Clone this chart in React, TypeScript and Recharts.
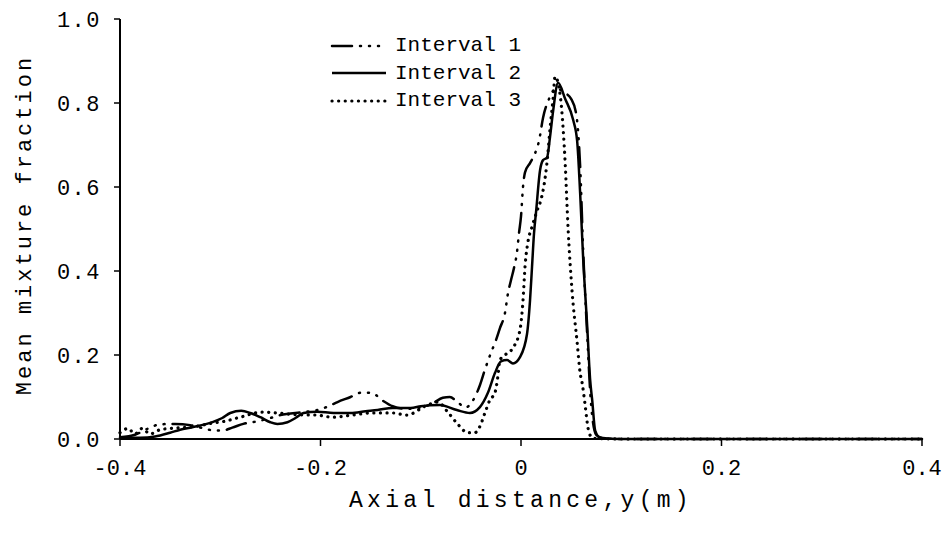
import { LineChart, Line, XAxis, YAxis, Legend } from "recharts"

const FONT = "'Liberation Mono', 'Courier New', monospace"

const X_TICKS = [-0.4, -0.2, 0, 0.2, 0.4]
const Y_TICKS = [0, 0.2, 0.4, 0.6, 0.8, 1.0]

// [axial distance (m), mean mixture fraction]
const INTERVAL_1: [number, number][] = [
  [-0.4, 0.004], [-0.385, 0.01], [-0.372, 0.025], [-0.36, 0.035], [-0.345, 0.036],
  [-0.33, 0.033], [-0.316, 0.025], [-0.305, 0.02], [-0.298, 0.02], [-0.288, 0.027],
  [-0.277, 0.036], [-0.263, 0.042], [-0.25, 0.05], [-0.24, 0.057], [-0.218, 0.064],
  [-0.205, 0.068], [-0.194, 0.076], [-0.183, 0.088], [-0.17, 0.1], [-0.16, 0.11],
  [-0.149, 0.11], [-0.139, 0.093], [-0.128, 0.078], [-0.115, 0.072], [-0.1, 0.075],
  [-0.088, 0.085], [-0.078, 0.098], [-0.071, 0.1], [-0.062, 0.085], [-0.055, 0.075],
  [-0.05, 0.085], [-0.046, 0.1], [-0.041, 0.128], [-0.036, 0.165], [-0.03, 0.205],
  [-0.025, 0.235], [-0.021, 0.264], [-0.016, 0.3], [-0.013, 0.347], [-0.01, 0.378],
  [-0.007, 0.407], [-0.004, 0.445], [-0.002, 0.49], [0.0, 0.53], [0.002, 0.6],
  [0.004, 0.635], [0.009, 0.657], [0.014, 0.68], [0.018, 0.71], [0.022, 0.765],
  [0.028, 0.81], [0.035, 0.835], [0.043, 0.825], [0.05, 0.81], [0.055, 0.775],
  [0.059, 0.65], [0.062, 0.45], [0.066, 0.25], [0.07, 0.08], [0.075, 0.01],
  [0.082, 0.002], [0.1, 0], [0.2, 0], [0.3, 0], [0.4, 0],
]

const INTERVAL_2: [number, number][] = [
  [-0.4, 0.003], [-0.38, 0.003], [-0.365, 0.006], [-0.35, 0.015], [-0.34, 0.022],
  [-0.328, 0.028], [-0.308, 0.04], [-0.298, 0.05], [-0.29, 0.062], [-0.279, 0.067],
  [-0.27, 0.062], [-0.26, 0.052], [-0.25, 0.04], [-0.243, 0.036], [-0.233, 0.04],
  [-0.225, 0.05], [-0.217, 0.062], [-0.203, 0.065], [-0.187, 0.062], [-0.17, 0.062],
  [-0.155, 0.066], [-0.143, 0.069], [-0.128, 0.074], [-0.11, 0.074], [-0.1, 0.078],
  [-0.081, 0.081], [-0.064, 0.069], [-0.051, 0.062], [-0.041, 0.076], [-0.033, 0.11],
  [-0.026, 0.157], [-0.02, 0.185], [-0.014, 0.188], [-0.008, 0.18], [-0.001, 0.195],
  [0.006, 0.25], [0.009, 0.33], [0.011, 0.41], [0.013, 0.49], [0.015, 0.54],
  [0.019, 0.64], [0.022, 0.664], [0.026, 0.67], [0.029, 0.72], [0.032, 0.78],
  [0.037, 0.848], [0.044, 0.81], [0.052, 0.76], [0.056, 0.71], [0.059, 0.585],
  [0.062, 0.43], [0.066, 0.27], [0.069, 0.14], [0.071, 0.093], [0.074, 0.02],
  [0.079, 0.003], [0.1, 0], [0.2, 0], [0.3, 0], [0.4, 0],
]

const INTERVAL_3: [number, number][] = [
  [-0.4, 0.015], [-0.392, 0.025], [-0.385, 0.012], [-0.378, 0.025], [-0.37, 0.012],
  [-0.36, 0.022], [-0.345, 0.026], [-0.324, 0.03], [-0.31, 0.037], [-0.296, 0.042],
  [-0.28, 0.052], [-0.258, 0.064], [-0.244, 0.062], [-0.225, 0.058], [-0.204, 0.057],
  [-0.188, 0.052], [-0.168, 0.057], [-0.148, 0.062], [-0.128, 0.062], [-0.114, 0.057],
  [-0.094, 0.08], [-0.083, 0.088], [-0.073, 0.064], [-0.064, 0.038], [-0.053, 0.015],
  [-0.046, 0.015], [-0.041, 0.03], [-0.036, 0.062], [-0.031, 0.093], [-0.026, 0.11],
  [-0.023, 0.15], [-0.021, 0.188], [-0.016, 0.2], [-0.008, 0.217], [-0.001, 0.26],
  [0.002, 0.33], [0.004, 0.41], [0.007, 0.47], [0.011, 0.505], [0.017, 0.55],
  [0.02, 0.57], [0.026, 0.66], [0.029, 0.74], [0.032, 0.81], [0.034, 0.863],
  [0.039, 0.82], [0.042, 0.74], [0.044, 0.66], [0.047, 0.5], [0.051, 0.35],
  [0.056, 0.23], [0.059, 0.157], [0.061, 0.133], [0.064, 0.08], [0.066, 0.04],
  [0.068, 0.014], [0.072, 0.002], [0.1, 0], [0.2, 0], [0.3, 0], [0.4, 0],
]

const toPoints = (rows: [number, number][]) => rows.map(([x, y]) => ({ x, y }))

const SERIES = [
  { name: "Interval 1", data: toPoints(INTERVAL_1), width: 2.5, dash: "20 8 1 8 1 8 1 8", cap: "round" as const },
  { name: "Interval 2", data: toPoints(INTERVAL_2), width: 2.5, dash: undefined, cap: "butt" as const },
  { name: "Interval 3", data: toPoints(INTERVAL_3), width: 3.2, dash: "0.1 6.5", cap: "round" as const },
]

const renderLegend = () => (
  <div style={{ fontFamily: FONT, fontSize: 21, color: "#000" }}>
    {SERIES.map((s) => (
      <div key={s.name} style={{ display: "flex", alignItems: "center", height: 27.5 }}>
        <svg width={58} height={10}>
          <line x1={2} y1={5} x2={56} y2={5} stroke="#000" strokeWidth={s.width}
            strokeDasharray={s.dash} strokeLinecap={s.cap} />
        </svg>
        <span style={{ marginLeft: 7 }}>{s.name}</span>
      </div>
    ))}
  </div>
)

const YTitle = ({ viewBox }: any) => {
  const x = viewBox.x + 25
  const y = viewBox.y + viewBox.height / 2 - 4
  return (
    <text x={x} y={y} transform={`rotate(-90, ${x}, ${y})`} textAnchor="middle" dominantBaseline="central"
      fill="#000" fontSize={22} fontFamily={FONT} letterSpacing={3}>
      Mean mixture fraction
    </text>
  )
}

const fmtX = (v: number) => (v === 0 ? "0" : v.toFixed(1))

export default function App() {
  return (
    <div>
      <style>{"html, body { margin: 0; overflow: hidden; } .recharts-surface { overflow: visible; }"}</style>
      <LineChart width={944} height={545} margin={{ top: 19, right: 22, bottom: 0, left: 0 }}>
        <XAxis
          type="number"
          dataKey="x"
          domain={[-0.4, 0.4]}
          ticks={X_TICKS}
          tickFormatter={fmtX}
          height={106}
          tickSize={7}
          tickMargin={13}
          axisLine={{ stroke: "#000", strokeWidth: 2 }}
          tickLine={{ stroke: "#000", strokeWidth: 1.5 }}
          tick={{ fill: "#000", fontSize: 22, fontFamily: FONT }}
          label={{ value: "Axial distance,y(m)", position: "insideBottom", offset: 38, fill: "#000", fontSize: 23, fontFamily: FONT, letterSpacing: 4.3 }}
        />
        <YAxis
          type="number"
          domain={[0, 1]}
          ticks={Y_TICKS}
          tickFormatter={(v: number) => v.toFixed(1)}
          width={120}
          tickSize={6}
          tickMargin={13}
          axisLine={{ stroke: "#000", strokeWidth: 2 }}
          tickLine={{ stroke: "#000", strokeWidth: 1.5 }}
          tick={{ fill: "#000", fontSize: 22, fontFamily: FONT, letterSpacing: 1.5 }}
          label={<YTitle />}
        />
        <Legend layout="vertical" align="center" verticalAlign="middle" content={renderLegend}
          wrapperStyle={{ left: 330, top: 32, width: 240 }} />
        {SERIES.map((s) => (
          <Line
            key={s.name}
            data={s.data}
            dataKey="y"
            name={s.name}
            type="monotone"
            stroke="#000"
            strokeWidth={s.width}
            strokeDasharray={s.dash}
            strokeLinecap={s.cap}
            dot={false}
            activeDot={false}
            isAnimationActive={false}
          />
        ))}
      </LineChart>
    </div>
  )
}
